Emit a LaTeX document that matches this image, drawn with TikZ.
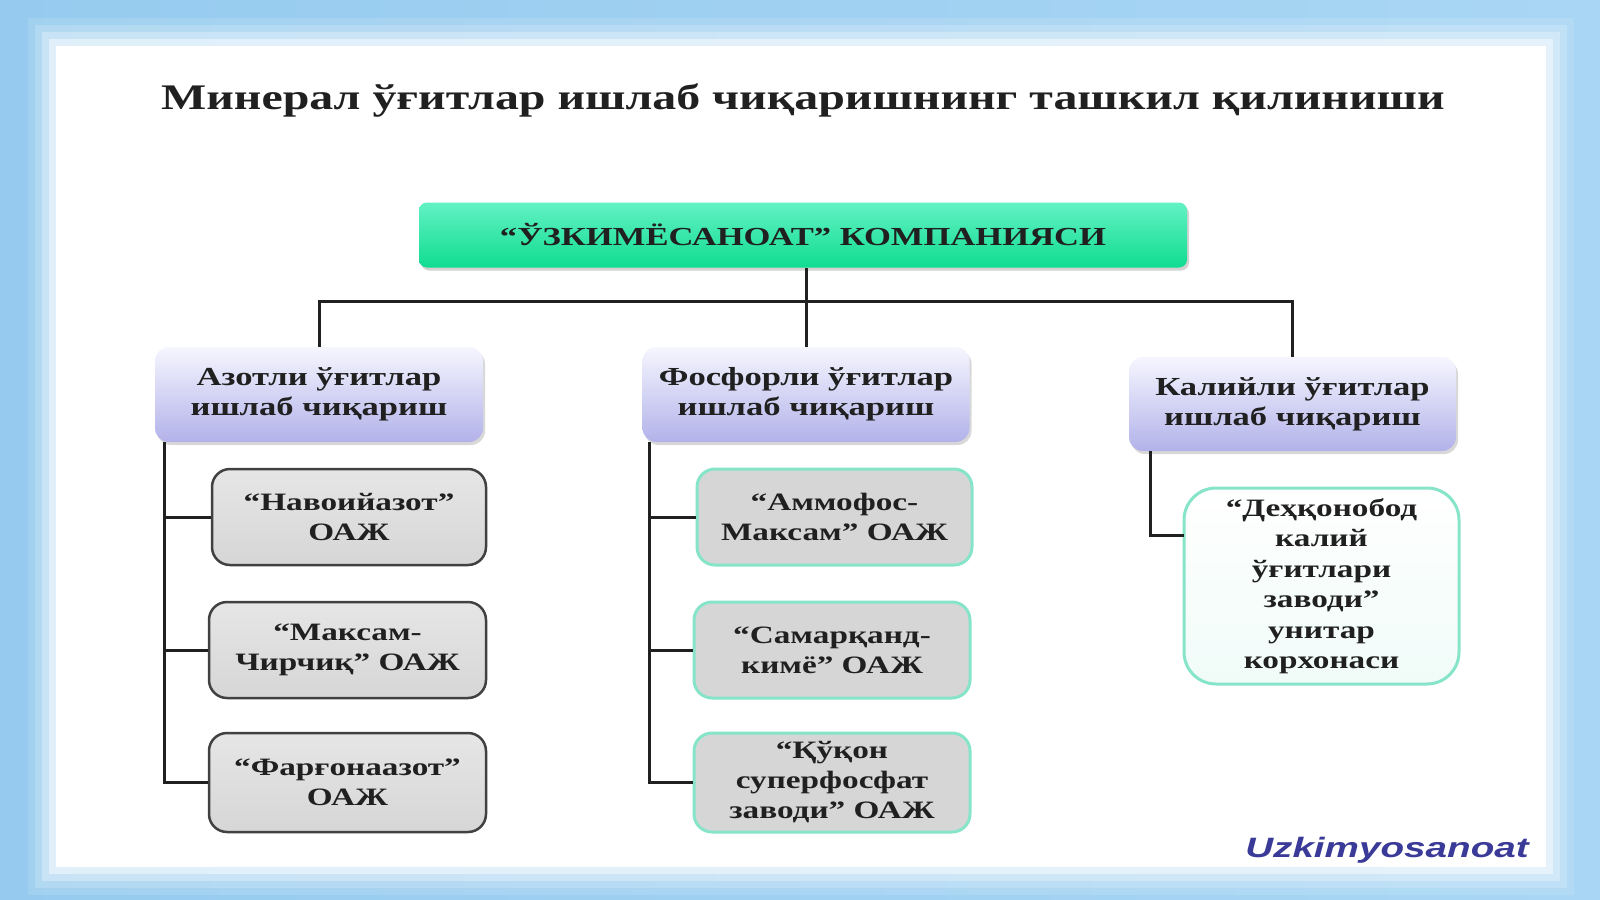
\documentclass[tikz,border=0pt]{standalone}
\usepackage{fontspec}
\setmainfont{Liberation Serif}[FakeStretch=1.33]
\newfontfamily\logofont{Liberation Sans}[FakeStretch=1.38]
\usetikzlibrary{shadows}
\definecolor{bgL}{HTML}{96CBEF}
\definecolor{bgM}{HTML}{DCEEFB}
\definecolor{bgR}{HTML}{A9D6F4}
\definecolor{topT}{HTML}{62F2C4}
\definecolor{topB}{HTML}{10DC90}
\definecolor{catT}{HTML}{F6F6FF}
\definecolor{catB}{HTML}{B2B2EA}
\definecolor{grayA}{HTML}{E6E6E6}
\definecolor{grayB}{HTML}{D6D6D6}
\definecolor{mint}{HTML}{86E4C8}
\definecolor{ink}{HTML}{202020}
\definecolor{logoblue}{HTML}{3A3A98}
\tikzset{
  conn/.style={line width=3pt, draw=ink},
  topbox/.style={rounded corners=8pt, top color=topT, bottom color=topB, draw=none,
    drop shadow={shadow xshift=2pt, shadow yshift=-3pt, opacity=0.35, fill=gray},
    font=\bfseries\fontsize{26}{30}\selectfont, text=ink},
  catbox/.style={rounded corners=14pt, top color=catT, bottom color=catB, draw=none,
    drop shadow={shadow xshift=2pt, shadow yshift=-3pt, opacity=0.3, fill=gray},
    align=center, font=\bfseries\fontsize{26}{30}\selectfont, text=ink, inner sep=2pt},
  azbox/.style={rounded corners=18pt, top color=grayA, bottom color=grayB, draw=ink!85,
    line width=2.5pt, align=center, font=\bfseries\fontsize{25}{30}\selectfont, text=ink, inner sep=2pt},
  fobox/.style={rounded corners=18pt, fill=grayB, draw=mint, line width=3pt,
    align=center, font=\bfseries\fontsize{25}{30}\selectfont, text=ink, inner sep=2pt},
  kabox/.style={rounded corners=32pt, top color=white, bottom color=mint!12, draw=mint, line width=3pt,
    align=center, font=\bfseries\fontsize{25}{30.5}\selectfont, text=ink, inner sep=2pt},
}
\begin{document}
\begin{tikzpicture}[x=1pt,y=-1pt]
\useasboundingbox (0,0) rectangle (1600,899);
\shade[left color=bgL, middle color=bgM, right color=bgR] (0,0) rectangle (1600,899);
\foreach \d/\o in {28/0.12,21/0.18,14/0.28,7/0.45}
  \fill[white,opacity=\o] (56-\d,46-\d) rectangle (1546+\d,867+\d);
\fill[white] (56,46) rectangle (1546,867);

\node[font=\bfseries\fontsize{36}{42}\selectfont, text=ink] (title) at (803,100)
  {Минерал ўғитлар ишлаб чиқаришнинг ташкил қилиниши};

\node[topbox, minimum width=768pt, minimum height=65pt] (top) at (803,235)
  {“ЎЗКИМЁСАНОАТ” КОМПАНИЯСИ};

\node[catbox, minimum width=328pt, minimum height=95pt] (az) at (319,394.5)
  {Азотли ўғитлар\\ишлаб чиқариш};
\node[catbox, minimum width=327pt, minimum height=95pt] (fo) at (806,394.5)
  {Фосфорли ўғитлар\\ишлаб чиқариш};
\node[catbox, minimum width=327pt, minimum height=94pt] (ka) at (1292.5,404)
  {Калийли ўғитлар\\ишлаб чиқариш};

\node[azbox, minimum width=274pt, minimum height=96pt] (n1) at (349,517)
  {“Навоийазот”\\ОАЖ};
\node[azbox, minimum width=277pt, minimum height=96pt] (n2) at (347.5,650)
  {“Максам-\\Чирчиқ” ОАЖ};
\node[azbox, minimum width=277pt, minimum height=99pt] (n3) at (347.5,782.5)
  {“Фарғонаазот”\\ОАЖ};

\node[fobox, minimum width=275pt, minimum height=96pt] (m1) at (834.5,517)
  {“Аммофос-\\Максам” ОАЖ};
\node[fobox, minimum width=276pt, minimum height=96pt] (m2) at (832,650)
  {“Самарқанд-\\кимё” ОАЖ};
\node[fobox, minimum width=276pt, minimum height=99pt] (m3) at (832,782.5)
  {“Қўқон\\суперфосфат\\заводи” ОАЖ};

\node[kabox, minimum width=275pt, minimum height=196pt] (dk) at (1321.5,586)
  {“Деҳқонобод\\калий\\ўғитлари\\заводи”\\унитар\\корхонаси};

\node[font=\logofont\bfseries\itshape\fontsize{28}{30}\selectfont, text=logoblue] (logo) at (1387,850)
  {Uzkimyosanoat};

% connectors
\draw[conn] (fo.north) -- (fo.north |- top.south);
\draw[conn] (az.north) -- ++(0,-45) -| (ka.north);

\coordinate (la) at ([xshift=10pt]az.south west);
\draw[conn] (la) |- (n1.west);
\draw[conn] (la) |- (n2.west);
\draw[conn] (la) |- (n3.west);

\coordinate (lf) at ([xshift=7pt]fo.south west);
\draw[conn] (lf) |- (m1.west);
\draw[conn] (lf) |- (m2.west);
\draw[conn] (lf) |- (m3.west);

\coordinate (lk) at ([xshift=22pt]ka.south west);
\coordinate (kb) at (1184,535);
\draw[conn] (lk) |- (kb);
\end{tikzpicture}
\end{document}
